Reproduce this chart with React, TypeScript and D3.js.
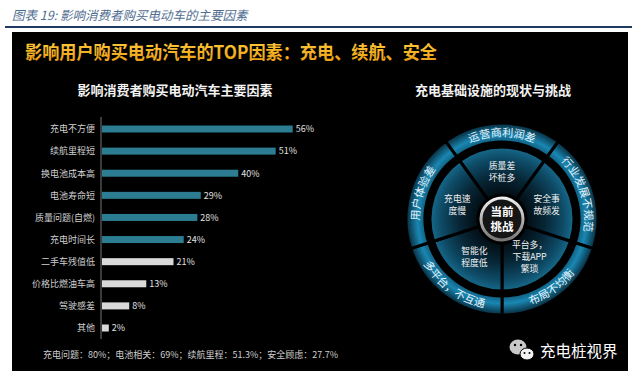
import React from 'react';
import * as d3 from 'd3';

// ---------- data ----------
const categories = ['充电不方便', '续航里程短', '换电池成本高', '电池寿命短', '质量问题(自燃)', '充电时间长', '二手车残值低', '价格比燃油车高', '驾驶感差', '其他'];
const values = [56, 51, 40, 29, 28, 24, 21, 13, 8, 2];
const groups = ['top', 'top', 'top', 'top', 'top', 'top', 'rest', 'rest', 'rest', 'rest'];

const headerText = '图表 19:  影响消费者购买电动车的主要因素';
const titleText = '影响用户购买电动汽车的TOP因素：充电、续航、安全';
const leftSubtitle = '影响消费者购买电动汽车主要因素';
const rightSubtitle = '充电基础设施的现状与挑战';
const summaryText = '充电问题：80%；电池相关：69%；续航里程：51.3%；安全顾虑：27.7%';

const innerLabels = [['质量差', '坏桩多'], ['安全事', '故频发'], ['平台多，', '下载APP', '繁琐'], ['智能化', '程度低'], ['充电速', '度慢']];
const ringLabels = ['运营商利润差', '行业发展不规范', '布局不均衡', '多平台，不互通', '用户体验差'];
const centerLabel = ['当前', '挑战'];
const watermark = '充电桩视界';

const W = 640, H = 378;
const FONT = '"Noto Sans CJK SC", "Noto Sans", sans-serif';

export default function App() {
  // bar chart scales
  const x = d3.scaleLinear().domain([0, 56]).range([102, 292.7]);
  const y = d3.scalePoint<string>().domain(categories).range([129, 328]);
  const barH = 7;
  const color = d3.scaleOrdinal<string, string>().domain(['top', 'rest']).range(['#2c7d92', '#d9d9d9']);

  // circle diagram
  const cx = 502, cy = 219;
  const pieR = 72, ringIn = 77, ringOut = 96, centerR = 21;
  const pie = d3.pie<number>().value(1).sort(null).startAngle(-Math.PI / 5).endAngle(2 * Math.PI - Math.PI / 5);
  const slices = pie([1, 1, 1, 1, 1]);
  const innerArc = d3.arc<d3.PieArcDatum<number>>().innerRadius(centerR + 3).outerRadius(pieR);
  const ringArc = d3.arc<d3.PieArcDatum<number>>().innerRadius(ringIn).outerRadius(ringOut);
  const midAngle = (s: d3.PieArcDatum<number>) => (s.startAngle + s.endAngle) / 2;

  const textPathD = (s: d3.PieArcDatum<number>) => {
    const m = midAngle(s);
    const bottom = m > Math.PI / 2 && m < (3 * Math.PI) / 2;
    const p = d3.path();
    const span = 0.62;
    if (!bottom) {
      const r = (ringIn + ringOut) / 2 - 4;
      p.arc(cx, cy, r, m - span - Math.PI / 2, m + span - Math.PI / 2, false);
    } else {
      const r = (ringIn + ringOut) / 2 + 4;
      p.arc(cx, cy, r, m + span - Math.PI / 2, m - span - Math.PI / 2, true);
    }
    return p.toString();
  };

  return (
    <svg width={W} height={H} style={{ position: 'absolute', left: 0, top: 0, background: '#fff' }} fontFamily={FONT}>
      <defs>
        <radialGradient id="ringGrad" gradientUnits="userSpaceOnUse" cx={0} cy={0} r={ringOut}>
          <stop offset="0.78" stopColor="#0b4f6d" />
          <stop offset="0.88" stopColor="#1a87b2" />
          <stop offset="1" stopColor="#062838" />
        </radialGradient>
        <radialGradient id="pieGrad" gradientUnits="userSpaceOnUse" cx={0} cy={0} r={pieR}>
          <stop offset="0.3" stopColor="#020a0f" />
          <stop offset="0.6" stopColor="#072636" />
          <stop offset="0.85" stopColor="#0e4b66" />
          <stop offset="1" stopColor="#176a8c" />
        </radialGradient>
        <linearGradient id="centerStroke" x1="0" y1="0" x2="0" y2="1">
          <stop offset="0" stopColor="#f0f0f0" />
          <stop offset="1" stopColor="#777" />
        </linearGradient>
        <linearGradient id="titleGrad" x1="0" y1="0" x2="0" y2="1">
          <stop offset="0" stopColor="#ffd040" />
          <stop offset="1" stopColor="#e89a10" />
        </linearGradient>
        {slices.map((s, i) => (
          <path key={i} id={`ringText${i}`} d={textPathD(s)} fill="none" />
        ))}
      </defs>

      {/* header */}
      <text x={12} y={20} fontSize={12.5} fontStyle="italic" fill="#4f6d8f">{headerText}</text>
      <rect x={5} y={26} width={627} height={2} fill="#1f3a5f" />

      {/* black panel */}
      <rect x={12} y={32} width={616} height={339} fill="#000" />

      {/* title */}
      <text x={25} y={59} fontSize={18.5} fontWeight="bold" fill="url(#titleGrad)" textLength={412} lengthAdjust="spacingAndGlyphs">{titleText}</text>

      {/* subtitles */}
      <text x={175} y={95} fontSize={13} fontWeight="bold" fill="#f2f2f2" textAnchor="middle">{leftSubtitle}</text>
      <text x={493} y={95} fontSize={13} fontWeight="bold" fill="#f2f2f2" textAnchor="middle">{rightSubtitle}</text>

      {/* bar chart */}
      <line x1={101} x2={101} y1={117} y2={339} stroke="#777" strokeWidth={1} />
      {categories.map((c, i) => (
        <g key={c}>
          <text x={95} y={(y(c) as number) + 3.3} fontSize={9} fill="#d0d0d0" textAnchor="end">{c}</text>
          <rect x={x(0)} y={(y(c) as number) - barH / 2} width={x(values[i]) - x(0)} height={barH} fill={color(groups[i])} />
          <text x={x(values[i]) + 3} y={(y(c) as number) + 3.3} fontSize={9} fill="#e0e0e0">{values[i]}%</text>
        </g>
      ))}
      <text x={43} y={358} fontSize={9} fill="#cfcfcf">{summaryText}</text>

      {/* circle diagram */}
      <g transform={`translate(${cx},${cy})`}>
        {slices.map((s, i) => (
          <path key={`ring${i}`} d={ringArc(s) || ''} fill="url(#ringGrad)" stroke="#000" strokeWidth={3} />
        ))}
        {slices.map((s, i) => (
          <path key={`pie${i}`} d={innerArc(s) || ''} fill="url(#pieGrad)" stroke="#000" strokeWidth={3} />
        ))}
      </g>
      {slices.map((s, i) => (
        <text key={`rt${i}`} fontSize={11} fill="#e6f6ff">
          <textPath href={`#ringText${i}`} startOffset="50%" textAnchor="middle">{ringLabels[i]}</textPath>
        </text>
      ))}
      {slices.map((s, i) => {
        const m = midAngle(s);
        const r = 47;
        const lx = cx + r * Math.sin(m);
        const ly = cy - r * Math.cos(m);
        const lines = innerLabels[i];
        const lh = 12;
        return (
          <text key={`il${i}`} fontSize={8.8} fill="#f0f0f0" textAnchor="middle">
            {lines.map((t, j) => (
              <tspan key={j} x={lx} y={ly + (j - (lines.length - 1) / 2) * lh + 3.2}>{t}</tspan>
            ))}
          </text>
        );
      })}
      <circle cx={cx} cy={cy} r={centerR} fill="#151515" stroke="url(#centerStroke)" strokeWidth={3} />
      <text x={cx} y={cy - 3} fontSize={11.5} fontWeight="bold" fill="#fff" textAnchor="middle">{centerLabel[0]}</text>
      <text x={cx} y={cy + 12} fontSize={11.5} fontWeight="bold" fill="#fff" textAnchor="middle">{centerLabel[1]}</text>

      {/* watermark */}
      <g>
        <ellipse cx={518} cy={347} rx={8.5} ry={7.5} fill="#c8c8c8" />
        <circle cx={515} cy={345} r={1.2} fill="#000" />
        <circle cx={521} cy={345} r={1.2} fill="#000" />
        <ellipse cx={527} cy={354} rx={7} ry={6} fill="#f2f2f2" stroke="#000" strokeWidth={1} />
        <circle cx={524.5} cy={353} r={1} fill="#000" />
        <circle cx={529.5} cy={353} r={1} fill="#000" />
        <text x={540} y={357} fontSize={15.5} fill="#fff">{watermark}</text>
      </g>
    </svg>
  );
}
